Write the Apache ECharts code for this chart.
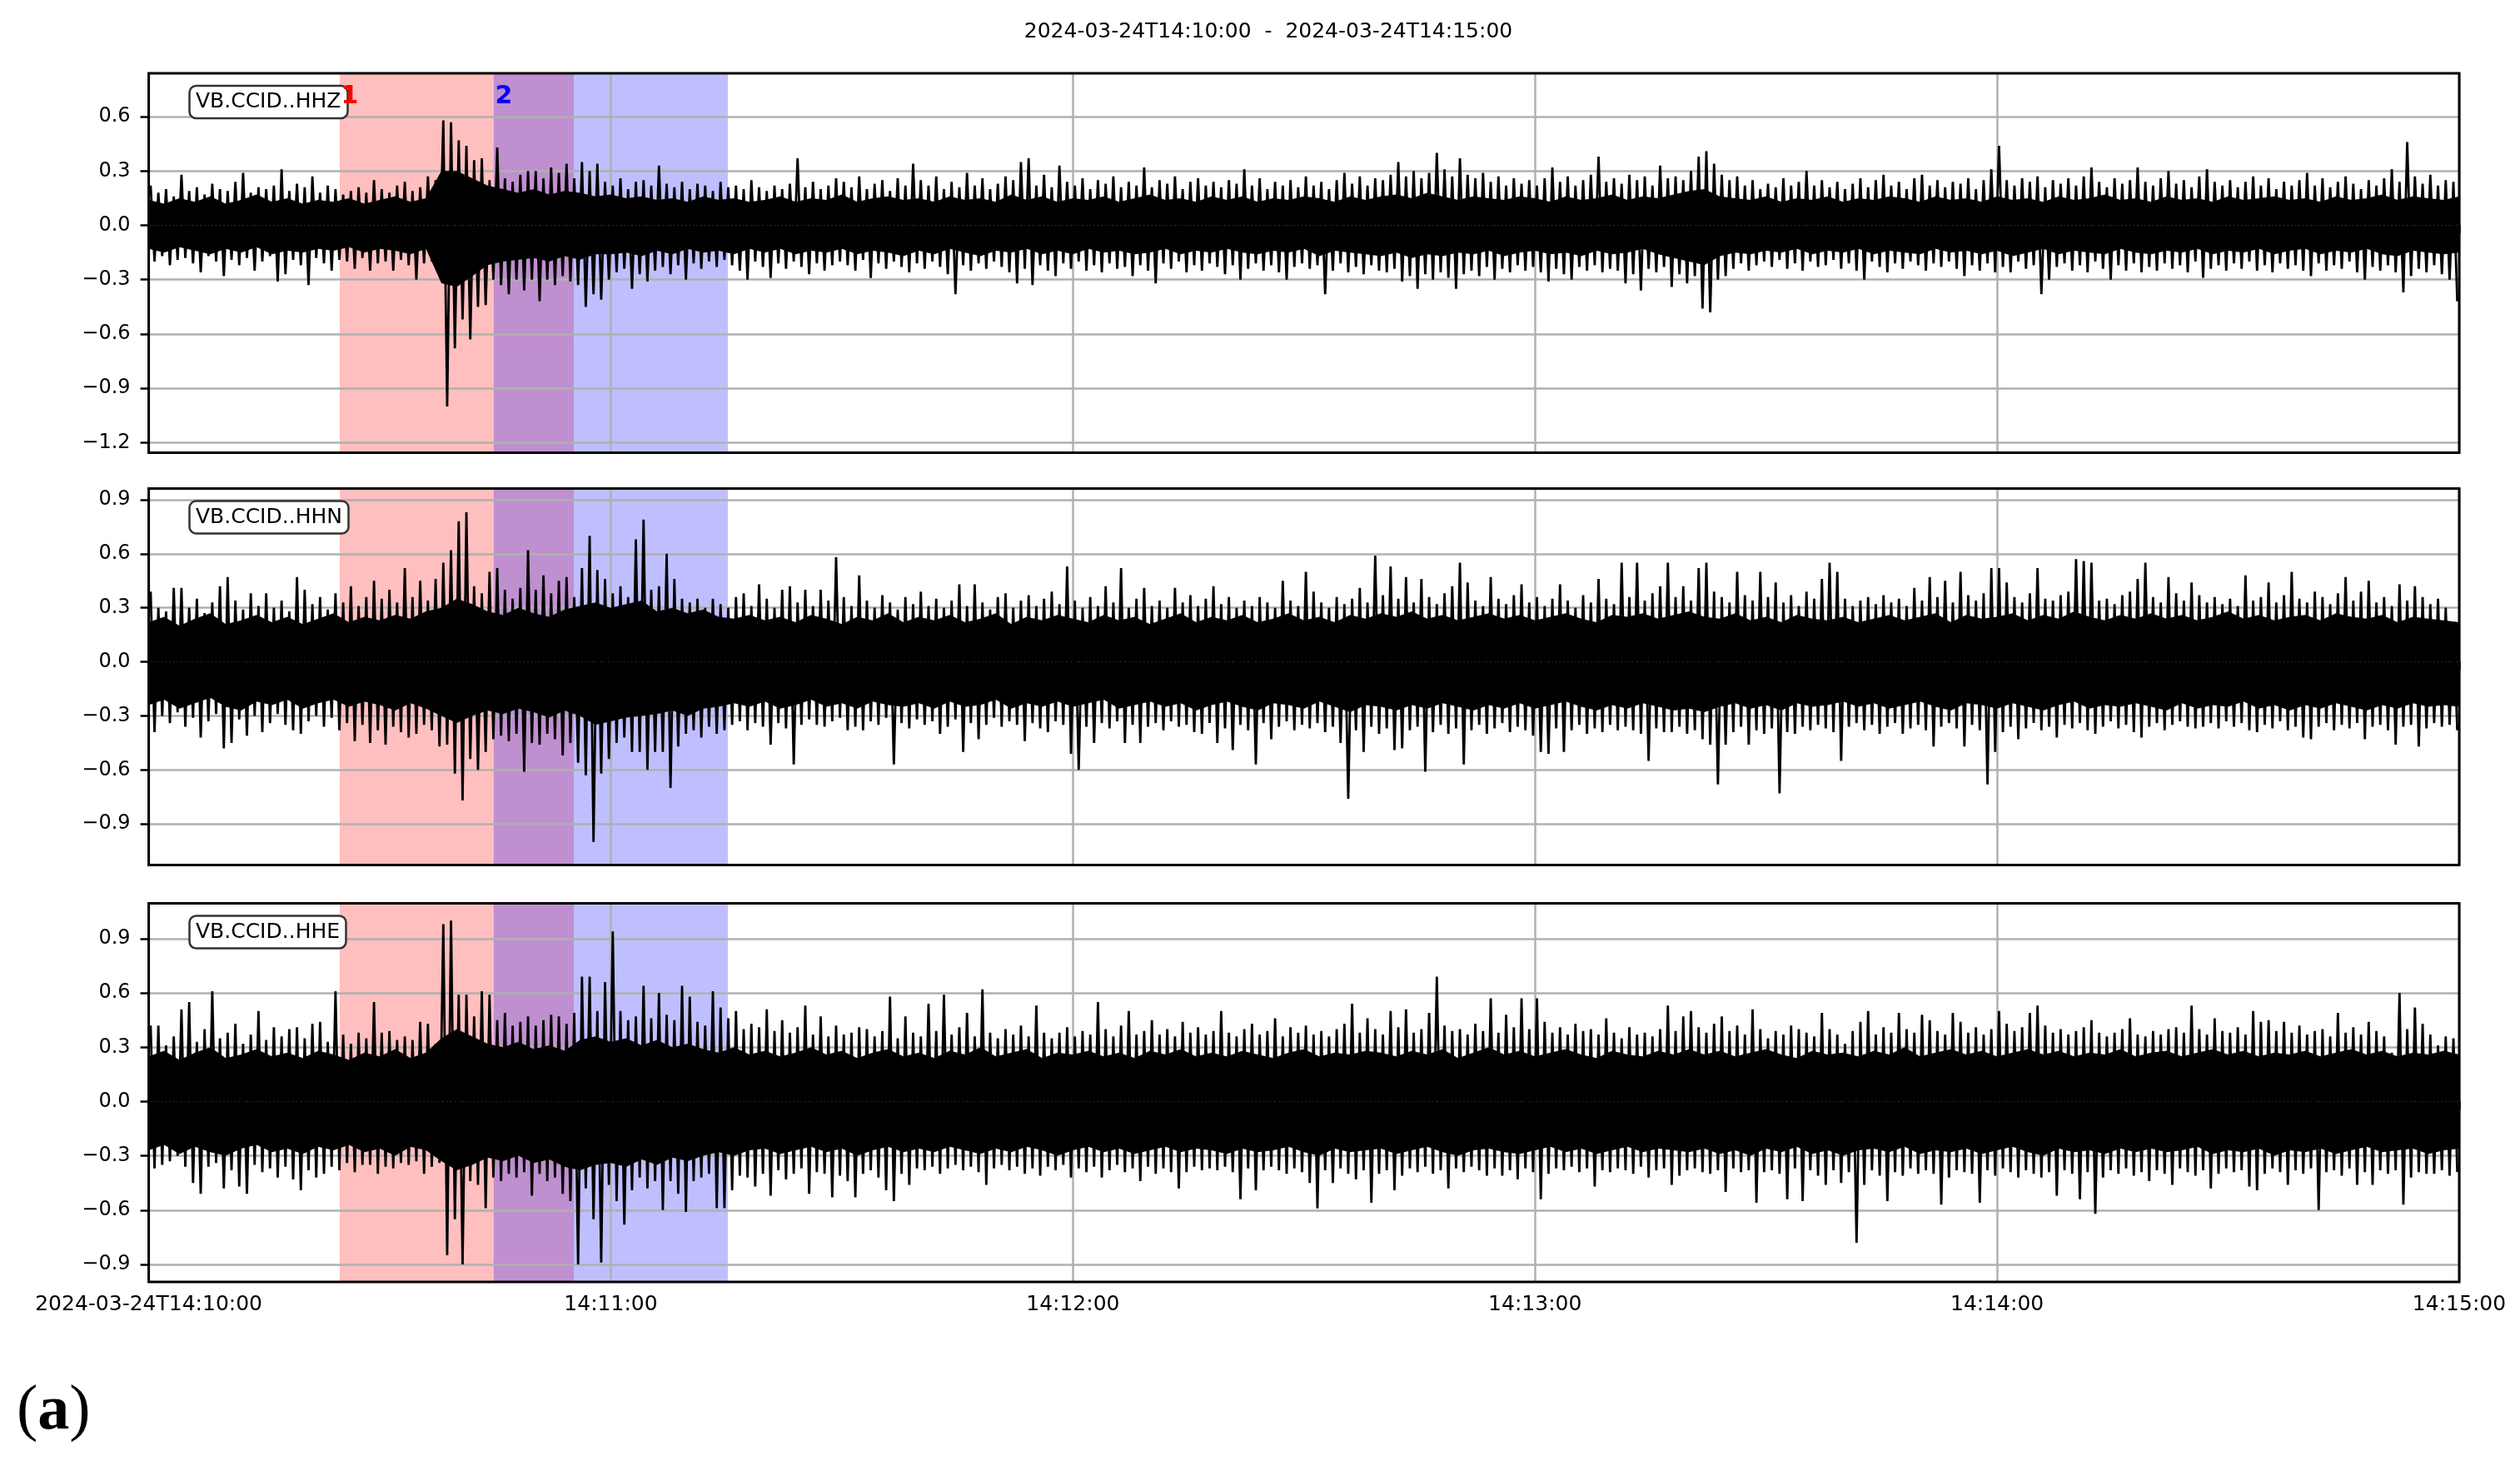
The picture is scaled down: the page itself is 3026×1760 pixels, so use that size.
<!DOCTYPE html>
<html><head><meta charset="utf-8">
<script src="https://cdn.jsdelivr.net/npm/echarts@6/dist/echarts.min.js"></script>
<style>html,body{margin:0;padding:0;background:#fff}#chart{width:3026px;height:1760px}</style>
</head><body><div id="chart"></div>
<script>
const mainTitle = '2024-03-24T14:10:00  -  2024-03-24T14:15:00';
const channels = ['VB.CCID..HHZ', 'VB.CCID..HHN', 'VB.CCID..HHE'];
const xTicks = [0, 60, 120, 180, 240, 300];
const xTickLabels = ['2024-03-24T14:10:00', '14:11:00', '14:12:00', '14:13:00', '14:14:00', '14:15:00'];
const yTicksZ = [-1.2, -0.9, -0.6, -0.3, 0, 0.3, 0.6];
const yTicksN = [-0.9, -0.6, -0.3, 0, 0.3, 0.6, 0.9];
const yTicksE = [-0.9, -0.6, -0.3, 0, 0.3, 0.6, 0.9];
const yLimZ = [-1.256, 0.84];
const yLimN = [-1.128, 0.962];
const yLimE = [-0.997, 1.095];
const pick1 = [24.8, 55.2];
const pick2 = [44.8, 75.2];
const pickLabels = ['1', '2'];

// per-second peak envelope (max / min in each 1 s bin), seconds after 14:10:00
const zHi = [
0.22,0.18,0.2,0.16,0.28,0.19,0.21,0.17,0.23,0.2,
0.19,0.24,0.29,0.18,0.21,0.2,0.22,0.31,0.19,0.23,
0.21,0.27,0.18,0.22,0.2,0.17,0.19,0.21,0.18,0.25,
0.2,0.18,0.22,0.24,0.19,0.21,0.27,0.25,0.58,0.57,
0.47,0.44,0.36,0.37,0.25,0.43,0.26,0.24,0.28,0.3,
0.3,0.26,0.32,0.29,0.34,0.26,0.35,0.3,0.34,0.24,
0.22,0.26,0.2,0.24,0.25,0.22,0.33,0.23,0.21,0.24,
0.2,0.23,0.22,0.19,0.24,0.21,0.22,0.2,0.25,0.21,
0.19,0.22,0.2,0.23,0.37,0.21,0.24,0.2,0.22,0.26,
0.24,0.21,0.27,0.2,0.23,0.25,0.19,0.26,0.22,0.34,
0.25,0.22,0.27,0.2,0.24,0.21,0.29,0.22,0.26,0.2,
0.23,0.27,0.25,0.35,0.37,0.22,0.28,0.21,0.33,0.24,
0.22,0.26,0.2,0.25,0.23,0.27,0.21,0.24,0.22,0.32,
0.21,0.25,0.23,0.27,0.2,0.24,0.26,0.22,0.24,0.21,
0.25,0.23,0.31,0.22,0.26,0.2,0.24,0.22,0.25,0.21,
0.27,0.22,0.24,0.2,0.25,0.29,0.23,0.27,0.22,0.26,
0.25,0.28,0.35,0.27,0.3,0.26,0.29,0.4,0.31,0.27,
0.37,0.28,0.26,0.29,0.24,0.27,0.22,0.26,0.23,0.25,
0.22,0.26,0.32,0.24,0.27,0.22,0.25,0.28,0.38,0.24,
0.26,0.23,0.28,0.25,0.27,0.22,0.33,0.26,0.27,0.25,
0.3,0.38,0.41,0.34,0.28,0.25,0.27,0.22,0.25,0.2,
0.23,0.21,0.26,0.22,0.24,0.3,0.22,0.25,0.21,0.24,
0.2,0.23,0.26,0.21,0.25,0.28,0.22,0.24,0.2,0.26,
0.28,0.22,0.25,0.21,0.24,0.23,0.26,0.2,0.25,0.31,
0.44,0.25,0.22,0.26,0.24,0.27,0.21,0.25,0.23,0.26,
0.22,0.27,0.32,0.24,0.21,0.26,0.23,0.25,0.32,0.24,
0.22,0.26,0.3,0.23,0.25,0.21,0.27,0.31,0.24,0.22,
0.25,0.21,0.24,0.27,0.22,0.26,0.2,0.24,0.22,0.25,
0.29,0.22,0.26,0.21,0.24,0.27,0.23,0.2,0.25,0.22,
0.26,0.31,0.24,0.46,0.27,0.23,0.28,0.22,0.25,0.24];
const zLo = [
-0.2,-0.17,-0.22,-0.19,-0.18,-0.21,-0.26,-0.17,-0.2,-0.28,
-0.19,-0.22,-0.18,-0.25,-0.2,-0.17,-0.31,-0.27,-0.19,-0.22,
-0.33,-0.18,-0.21,-0.25,-0.19,-0.2,-0.24,-0.18,-0.25,-0.21,
-0.2,-0.25,-0.19,-0.22,-0.3,-0.21,-0.2,-0.28,-1.0,-0.68,
-0.52,-0.63,-0.45,-0.44,-0.3,-0.33,-0.38,-0.3,-0.36,-0.3,
-0.42,-0.3,-0.33,-0.28,-0.31,-0.33,-0.45,-0.38,-0.41,-0.3,
-0.26,-0.24,-0.35,-0.27,-0.31,-0.25,-0.23,-0.27,-0.22,-0.3,
-0.21,-0.24,-0.2,-0.23,-0.19,-0.22,-0.25,-0.3,-0.2,-0.23,
-0.29,-0.21,-0.24,-0.2,-0.23,-0.27,-0.21,-0.25,-0.22,-0.2,
-0.22,-0.25,-0.19,-0.29,-0.21,-0.24,-0.2,-0.23,-0.26,-0.21,
-0.24,-0.2,-0.23,-0.27,-0.38,-0.22,-0.25,-0.21,-0.24,-0.2,
-0.23,-0.26,-0.32,-0.24,-0.33,-0.22,-0.25,-0.28,-0.21,-0.24,
-0.2,-0.25,-0.22,-0.26,-0.21,-0.24,-0.23,-0.28,-0.22,-0.25,
-0.32,-0.21,-0.24,-0.2,-0.26,-0.22,-0.25,-0.21,-0.23,-0.27,
-0.22,-0.3,-0.24,-0.21,-0.25,-0.22,-0.26,-0.3,-0.23,-0.21,
-0.24,-0.22,-0.38,-0.25,-0.21,-0.26,-0.23,-0.27,-0.22,-0.25,
-0.26,-0.24,-0.31,-0.28,-0.35,-0.27,-0.3,-0.26,-0.29,-0.35,
-0.27,-0.25,-0.28,-0.23,-0.3,-0.24,-0.26,-0.22,-0.25,-0.23,
-0.26,-0.31,-0.24,-0.27,-0.3,-0.23,-0.25,-0.22,-0.26,-0.24,
-0.25,-0.32,-0.27,-0.36,-0.24,-0.26,-0.23,-0.34,-0.27,-0.32,
-0.28,-0.46,-0.48,-0.3,-0.28,-0.24,-0.21,-0.25,-0.22,-0.2,
-0.23,-0.19,-0.24,-0.21,-0.25,-0.2,-0.23,-0.22,-0.19,-0.24,
-0.21,-0.25,-0.3,-0.2,-0.23,-0.26,-0.21,-0.24,-0.2,-0.22,
-0.25,-0.21,-0.23,-0.2,-0.24,-0.28,-0.22,-0.25,-0.21,-0.26,
-0.23,-0.26,-0.2,-0.24,-0.22,-0.38,-0.3,-0.23,-0.21,-0.25,
-0.22,-0.26,-0.2,-0.24,-0.3,-0.22,-0.25,-0.21,-0.26,-0.23,
-0.25,-0.21,-0.24,-0.22,-0.26,-0.2,-0.29,-0.24,-0.22,-0.25,
-0.21,-0.24,-0.2,-0.25,-0.22,-0.26,-0.21,-0.24,-0.22,-0.25,
-0.28,-0.21,-0.25,-0.22,-0.24,-0.2,-0.26,-0.3,-0.23,-0.25,
-0.22,-0.26,-0.37,-0.28,-0.24,-0.26,-0.22,-0.27,-0.3,-0.42];
const nHi = [
0.39,0.3,0.28,0.41,0.41,0.3,0.35,0.27,0.33,0.42,
0.47,0.34,0.29,0.38,0.31,0.38,0.3,0.34,0.28,0.47,
0.4,0.32,0.36,0.29,0.38,0.33,0.42,0.31,0.36,0.45,
0.35,0.4,0.33,0.52,0.36,0.45,0.34,0.46,0.55,0.62,
0.78,0.83,0.42,0.38,0.5,0.52,0.4,0.35,0.41,0.62,
0.4,0.48,0.38,0.45,0.47,0.36,0.52,0.7,0.51,0.46,
0.38,0.42,0.36,0.68,0.79,0.4,0.42,0.6,0.46,0.35,
0.33,0.35,0.3,0.35,0.32,0.3,0.36,0.38,0.31,0.43,
0.35,0.3,0.4,0.42,0.33,0.4,0.31,0.4,0.34,0.58,
0.36,0.31,0.48,0.34,0.3,0.37,0.33,0.29,0.36,0.32,
0.39,0.31,0.35,0.3,0.34,0.43,0.31,0.43,0.33,0.29,
0.36,0.38,0.3,0.34,0.37,0.31,0.35,0.39,0.32,0.53,
0.34,0.3,0.36,0.31,0.42,0.33,0.52,0.3,0.35,0.41,
0.31,0.34,0.3,0.41,0.33,0.37,0.31,0.35,0.42,0.32,
0.36,0.3,0.34,0.31,0.36,0.33,0.3,0.45,0.34,0.31,
0.5,0.39,0.33,0.3,0.36,0.32,0.35,0.41,0.33,0.59,
0.37,0.53,0.35,0.47,0.33,0.46,0.36,0.32,0.38,0.42,
0.55,0.44,0.34,0.31,0.47,0.35,0.32,0.37,0.43,0.33,
0.36,0.31,0.35,0.43,0.34,0.3,0.37,0.33,0.46,0.35,
0.32,0.55,0.36,0.55,0.34,0.38,0.42,0.55,0.36,0.42,
0.34,0.52,0.55,0.39,0.36,0.33,0.5,0.37,0.34,0.5,
0.36,0.44,0.33,0.37,0.31,0.39,0.35,0.46,0.55,0.5,
0.35,0.31,0.34,0.36,0.32,0.37,0.33,0.35,0.31,0.41,
0.34,0.47,0.36,0.45,0.33,0.5,0.37,0.34,0.38,0.52,
0.52,0.44,0.36,0.33,0.38,0.52,0.35,0.34,0.37,0.39,
0.57,0.56,0.55,0.34,0.35,0.32,0.37,0.39,0.46,0.55,
0.36,0.33,0.47,0.38,0.34,0.44,0.37,0.33,0.36,0.32,
0.35,0.31,0.48,0.34,0.36,0.44,0.33,0.37,0.5,0.35,
0.33,0.39,0.36,0.32,0.38,0.47,0.34,0.39,0.45,0.33,
0.36,0.31,0.43,0.34,0.42,0.36,0.32,0.35,0.3,0.21];
const nLo = [
-0.39,-0.3,-0.34,-0.28,-0.36,-0.31,-0.42,-0.33,-0.29,-0.48,
-0.45,-0.32,-0.41,-0.3,-0.39,-0.34,-0.29,-0.35,-0.38,-0.4,
-0.33,-0.3,-0.36,-0.31,-0.38,-0.34,-0.44,-0.35,-0.45,-0.38,
-0.46,-0.36,-0.39,-0.42,-0.4,-0.35,-0.38,-0.47,-0.46,-0.62,
-0.77,-0.54,-0.6,-0.5,-0.43,-0.41,-0.44,-0.4,-0.61,-0.45,
-0.46,-0.4,-0.43,-0.52,-0.45,-0.56,-0.63,-1.0,-0.62,-0.54,
-0.45,-0.42,-0.5,-0.5,-0.6,-0.5,-0.5,-0.7,-0.47,-0.4,
-0.38,-0.42,-0.36,-0.4,-0.38,-0.35,-0.33,-0.38,-0.34,-0.36,
-0.46,-0.34,-0.37,-0.57,-0.35,-0.32,-0.35,-0.36,-0.33,-0.31,
-0.38,-0.36,-0.38,-0.33,-0.35,-0.31,-0.57,-0.34,-0.37,-0.32,
-0.35,-0.33,-0.4,-0.36,-0.32,-0.5,-0.34,-0.43,-0.35,-0.31,
-0.36,-0.33,-0.35,-0.44,-0.34,-0.37,-0.39,-0.33,-0.35,-0.51,
-0.6,-0.36,-0.45,-0.34,-0.37,-0.33,-0.45,-0.35,-0.45,-0.36,
-0.34,-0.38,-0.33,-0.36,-0.35,-0.39,-0.4,-0.34,-0.45,-0.37,
-0.49,-0.35,-0.38,-0.57,-0.34,-0.43,-0.36,-0.33,-0.38,-0.35,
-0.37,-0.34,-0.39,-0.36,-0.45,-0.76,-0.38,-0.5,-0.36,-0.4,
-0.37,-0.49,-0.48,-0.38,-0.36,-0.61,-0.39,-0.35,-0.4,-0.37,
-0.57,-0.38,-0.35,-0.4,-0.37,-0.34,-0.39,-0.36,-0.38,-0.41,
-0.5,-0.51,-0.37,-0.5,-0.38,-0.35,-0.4,-0.37,-0.39,-0.35,
-0.38,-0.36,-0.38,-0.4,-0.55,-0.37,-0.39,-0.39,-0.36,-0.4,
-0.38,-0.43,-0.46,-0.68,-0.46,-0.39,-0.36,-0.46,-0.38,-0.4,
-0.37,-0.73,-0.39,-0.4,-0.36,-0.38,-0.35,-0.37,-0.39,-0.55,
-0.36,-0.34,-0.38,-0.35,-0.4,-0.36,-0.34,-0.4,-0.37,-0.35,
-0.38,-0.47,-0.36,-0.34,-0.37,-0.47,-0.35,-0.38,-0.68,-0.5,
-0.39,-0.36,-0.43,-0.37,-0.34,-0.38,-0.36,-0.42,-0.35,-0.37,
-0.34,-0.38,-0.4,-0.36,-0.33,-0.37,-0.35,-0.39,-0.42,-0.36,
-0.34,-0.38,-0.35,-0.33,-0.36,-0.37,-0.36,-0.34,-0.37,-0.33,
-0.36,-0.34,-0.38,-0.39,-0.35,-0.37,-0.33,-0.38,-0.36,-0.42,
-0.43,-0.36,-0.34,-0.38,-0.35,-0.37,-0.34,-0.43,-0.36,-0.35,
-0.38,-0.46,-0.36,-0.35,-0.47,-0.37,-0.34,-0.36,-0.35,-0.38];
const eHi = [
0.42,0.42,0.31,0.36,0.51,0.55,0.33,0.4,0.61,0.35,
0.38,0.43,0.32,0.37,0.5,0.34,0.41,0.36,0.4,0.41,
0.35,0.43,0.44,0.33,0.61,0.37,0.32,0.38,0.35,0.55,
0.38,0.39,0.34,0.36,0.34,0.44,0.43,0.32,0.98,1.0,
0.59,0.59,0.47,0.61,0.59,0.45,0.49,0.42,0.44,0.47,
0.42,0.45,0.48,0.47,0.43,0.49,0.69,0.69,0.5,0.66,
0.94,0.5,0.45,0.47,0.64,0.46,0.6,0.48,0.45,0.64,
0.58,0.44,0.42,0.61,0.52,0.46,0.5,0.4,0.43,0.41,
0.51,0.39,0.45,0.38,0.41,0.53,0.37,0.47,0.36,0.42,
0.37,0.38,0.41,0.4,0.36,0.39,0.58,0.35,0.47,0.38,
0.36,0.54,0.39,0.59,0.37,0.41,0.49,0.36,0.62,0.38,
0.35,0.4,0.37,0.42,0.36,0.53,0.38,0.35,0.38,0.41,
0.36,0.39,0.37,0.55,0.4,0.36,0.42,0.5,0.37,0.39,
0.45,0.37,0.4,0.36,0.44,0.38,0.41,0.37,0.39,0.5,
0.38,0.36,0.4,0.43,0.37,0.39,0.46,0.36,0.41,0.38,
0.42,0.37,0.39,0.36,0.4,0.43,0.54,0.38,0.46,0.4,
0.37,0.5,0.41,0.51,0.38,0.4,0.49,0.69,0.42,0.39,
0.4,0.37,0.43,0.39,0.57,0.38,0.48,0.41,0.57,0.4,
0.57,0.44,0.38,0.41,0.37,0.43,0.39,0.4,0.37,0.46,
0.38,0.35,0.41,0.37,0.38,0.36,0.4,0.53,0.39,0.47,
0.5,0.41,0.38,0.43,0.47,0.39,0.42,0.37,0.51,0.4,
0.35,0.39,0.37,0.42,0.4,0.38,0.36,0.49,0.4,0.37,
0.32,0.39,0.44,0.5,0.37,0.41,0.38,0.49,0.4,0.38,
0.48,0.45,0.39,0.37,0.49,0.44,0.38,0.41,0.37,0.4,
0.5,0.43,0.39,0.41,0.49,0.53,0.42,0.38,0.4,0.37,
0.39,0.41,0.45,0.38,0.36,0.38,0.4,0.46,0.37,0.36,
0.39,0.37,0.4,0.41,0.38,0.53,0.4,0.37,0.46,0.39,
0.38,0.41,0.37,0.5,0.44,0.45,0.39,0.44,0.38,0.42,
0.37,0.39,0.4,0.36,0.49,0.38,0.41,0.37,0.44,0.39,
0.36,0.27,0.6,0.4,0.52,0.43,0.37,0.31,0.36,0.35];
const eLo = [
-0.37,-0.35,-0.33,-0.3,-0.36,-0.45,-0.51,-0.36,-0.34,-0.48,
-0.38,-0.47,-0.51,-0.35,-0.39,-0.37,-0.42,-0.36,-0.43,-0.49,
-0.38,-0.42,-0.4,-0.36,-0.38,-0.34,-0.39,-0.35,-0.35,-0.4,
-0.36,-0.37,-0.34,-0.35,-0.33,-0.4,-0.36,-0.34,-0.85,-0.65,
-0.9,-0.44,-0.46,-0.59,-0.42,-0.44,-0.4,-0.42,-0.39,-0.52,
-0.4,-0.44,-0.42,-0.51,-0.55,-0.9,-0.48,-0.65,-0.89,-0.46,
-0.55,-0.68,-0.49,-0.42,-0.48,-0.44,-0.6,-0.44,-0.51,-0.61,
-0.44,-0.42,-0.4,-0.59,-0.59,-0.49,-0.41,-0.42,-0.47,-0.4,
-0.52,-0.38,-0.43,-0.4,-0.37,-0.51,-0.39,-0.4,-0.53,-0.41,
-0.44,-0.53,-0.4,-0.38,-0.42,-0.49,-0.55,-0.4,-0.46,-0.37,
-0.38,-0.36,-0.4,-0.37,-0.35,-0.38,-0.36,-0.39,-0.46,-0.37,
-0.35,-0.38,-0.36,-0.4,-0.37,-0.41,-0.36,-0.38,-0.35,-0.42,
-0.37,-0.39,-0.36,-0.42,-0.38,-0.35,-0.39,-0.37,-0.44,-0.36,
-0.4,-0.37,-0.39,-0.48,-0.39,-0.36,-0.38,-0.37,-0.38,-0.36,
-0.39,-0.54,-0.37,-0.49,-0.38,-0.36,-0.38,-0.4,-0.37,-0.39,
-0.45,-0.59,-0.38,-0.45,-0.37,-0.4,-0.43,-0.38,-0.56,-0.4,
-0.38,-0.49,-0.41,-0.37,-0.39,-0.36,-0.4,-0.38,-0.48,-0.37,
-0.39,-0.36,-0.38,-0.41,-0.37,-0.41,-0.38,-0.43,-0.37,-0.39,
-0.54,-0.4,-0.37,-0.38,-0.36,-0.39,-0.37,-0.47,-0.38,-0.39,
-0.37,-0.38,-0.4,-0.36,-0.42,-0.38,-0.37,-0.46,-0.41,-0.38,
-0.37,-0.39,-0.4,-0.38,-0.5,-0.37,-0.39,-0.38,-0.56,-0.39,
-0.38,-0.4,-0.54,-0.37,-0.55,-0.38,-0.41,-0.46,-0.38,-0.45,
-0.39,-0.78,-0.46,-0.38,-0.41,-0.55,-0.39,-0.41,-0.37,-0.4,
-0.38,-0.4,-0.57,-0.42,-0.38,-0.39,-0.4,-0.56,-0.38,-0.41,
-0.37,-0.39,-0.42,-0.38,-0.4,-0.42,-0.39,-0.52,-0.38,-0.4,
-0.54,-0.39,-0.62,-0.42,-0.38,-0.4,-0.37,-0.41,-0.39,-0.44,
-0.38,-0.4,-0.46,-0.37,-0.39,-0.41,-0.38,-0.48,-0.4,-0.37,
-0.39,-0.38,-0.47,-0.49,-0.4,-0.37,-0.39,-0.46,-0.38,-0.4,
-0.37,-0.6,-0.39,-0.38,-0.41,-0.37,-0.46,-0.39,-0.46,-0.38,
-0.4,-0.38,-0.57,-0.42,-0.39,-0.4,-0.4,-0.38,-0.41,-0.39];

// dense noise band (upper / lower edge), every 2 s from 0 to 300 s
const zCoreHi = [
0.14,0.12,0.15,0.13,0.16,0.12,0.14,0.17,0.13,0.15,
0.12,0.14,0.13,0.15,0.12,0.14,0.16,0.13,0.15,0.3,
0.3,0.26,0.22,0.2,0.18,0.2,0.17,0.19,0.18,0.16,
0.17,0.15,0.16,0.14,0.15,0.13,0.16,0.14,0.15,0.13,
0.14,0.16,0.13,0.15,0.14,0.17,0.13,0.15,0.16,0.14,
0.15,0.13,0.16,0.14,0.15,0.13,0.17,0.14,0.16,0.13,
0.15,0.14,0.16,0.13,0.15,0.17,0.14,0.15,0.13,0.16,
0.14,0.16,0.13,0.15,0.14,0.16,0.15,0.13,0.16,0.14,
0.16,0.17,0.15,0.18,0.16,0.14,0.16,0.15,0.14,0.16,
0.15,0.13,0.16,0.14,0.15,0.17,0.14,0.16,0.15,0.17,
0.19,0.2,0.16,0.15,0.14,0.16,0.13,0.15,0.14,0.16,
0.13,0.15,0.14,0.16,0.15,0.13,0.16,0.14,0.15,0.13,
0.16,0.14,0.15,0.13,0.16,0.14,0.15,0.17,0.14,0.15,
0.13,0.16,0.14,0.15,0.13,0.16,0.14,0.15,0.16,0.14,
0.15,0.13,0.16,0.14,0.15,0.17,0.14,0.16,0.15,0.14,
0.16];
const zCoreLo = [
-0.13,-0.15,-0.12,-0.14,-0.16,-0.13,-0.15,-0.12,-0.16,-0.14,
-0.15,-0.13,-0.14,-0.12,-0.15,-0.13,-0.14,-0.16,-0.13,-0.32,
-0.34,-0.28,-0.22,-0.2,-0.19,-0.18,-0.2,-0.17,-0.19,-0.16,
-0.16,-0.15,-0.17,-0.14,-0.16,-0.13,-0.15,-0.14,-0.16,-0.13,
-0.15,-0.13,-0.16,-0.14,-0.15,-0.13,-0.16,-0.14,-0.15,-0.17,
-0.14,-0.16,-0.13,-0.15,-0.17,-0.14,-0.15,-0.13,-0.16,-0.14,
-0.16,-0.13,-0.15,-0.14,-0.16,-0.15,-0.13,-0.16,-0.14,-0.15,
-0.13,-0.15,-0.16,-0.14,-0.15,-0.13,-0.17,-0.14,-0.15,-0.16,
-0.17,-0.15,-0.18,-0.16,-0.17,-0.15,-0.16,-0.14,-0.17,-0.15,
-0.14,-0.16,-0.15,-0.17,-0.14,-0.16,-0.15,-0.13,-0.16,-0.18,
-0.2,-0.22,-0.17,-0.15,-0.16,-0.14,-0.15,-0.13,-0.16,-0.14,
-0.15,-0.13,-0.16,-0.14,-0.15,-0.16,-0.13,-0.15,-0.14,-0.16,
-0.14,-0.17,-0.15,-0.13,-0.16,-0.14,-0.15,-0.16,-0.13,-0.15,
-0.16,-0.14,-0.15,-0.13,-0.16,-0.14,-0.15,-0.13,-0.16,-0.14,
-0.13,-0.16,-0.14,-0.15,-0.13,-0.16,-0.17,-0.14,-0.15,-0.16,
-0.15];
const nCoreHi = [
0.22,0.25,0.2,0.24,0.27,0.21,0.23,0.26,0.22,0.25,
0.21,0.24,0.27,0.22,0.25,0.23,0.26,0.24,0.28,0.3,
0.35,0.32,0.28,0.26,0.3,0.27,0.25,0.29,0.31,0.33,
0.3,0.32,0.34,0.28,0.3,0.27,0.29,0.25,0.24,0.26,
0.23,0.25,0.22,0.26,0.24,0.21,0.25,0.23,0.27,0.22,
0.25,0.23,0.26,0.22,0.24,0.27,0.21,0.25,0.23,0.26,
0.24,0.22,0.26,0.23,0.25,0.21,0.24,0.27,0.22,0.25,
0.23,0.26,0.22,0.24,0.27,0.23,0.25,0.22,0.26,0.24,
0.27,0.25,0.28,0.24,0.26,0.23,0.25,0.27,0.24,0.26,
0.23,0.25,0.27,0.24,0.22,0.26,0.25,0.27,0.24,0.26,
0.28,0.25,0.24,0.27,0.23,0.25,0.22,0.26,0.24,0.23,
0.25,0.22,0.24,0.26,0.23,0.25,0.27,0.22,0.26,0.24,
0.25,0.27,0.23,0.26,0.24,0.28,0.25,0.23,0.26,0.24,
0.27,0.24,0.26,0.23,0.25,0.28,0.24,0.26,0.23,0.25,
0.26,0.23,0.27,0.25,0.24,0.26,0.22,0.25,0.24,0.23,
0.22];
const nCoreLo = [
-0.24,-0.21,-0.26,-0.23,-0.2,-0.25,-0.27,-0.22,-0.24,-0.21,
-0.26,-0.23,-0.21,-0.25,-0.22,-0.24,-0.27,-0.23,-0.26,-0.3,
-0.34,-0.3,-0.27,-0.29,-0.26,-0.28,-0.31,-0.27,-0.3,-0.35,
-0.33,-0.31,-0.3,-0.29,-0.27,-0.3,-0.26,-0.25,-0.23,-0.25,
-0.22,-0.26,-0.24,-0.21,-0.25,-0.23,-0.26,-0.22,-0.24,-0.25,
-0.23,-0.26,-0.22,-0.25,-0.24,-0.21,-0.26,-0.23,-0.25,-0.22,
-0.25,-0.23,-0.21,-0.26,-0.24,-0.22,-0.25,-0.23,-0.27,-0.24,
-0.22,-0.25,-0.27,-0.23,-0.24,-0.26,-0.22,-0.25,-0.28,-0.24,
-0.25,-0.27,-0.24,-0.26,-0.23,-0.25,-0.27,-0.24,-0.26,-0.23,
-0.26,-0.24,-0.22,-0.25,-0.27,-0.24,-0.26,-0.23,-0.25,-0.27,
-0.26,-0.28,-0.25,-0.23,-0.26,-0.24,-0.27,-0.23,-0.25,-0.24,
-0.22,-0.25,-0.23,-0.26,-0.24,-0.22,-0.25,-0.27,-0.23,-0.24,
-0.26,-0.23,-0.25,-0.27,-0.24,-0.22,-0.26,-0.24,-0.25,-0.23,
-0.25,-0.27,-0.23,-0.26,-0.24,-0.25,-0.22,-0.26,-0.24,-0.27,
-0.24,-0.26,-0.23,-0.25,-0.27,-0.24,-0.26,-0.23,-0.25,-0.24,
-0.25];
const eCoreHi = [
0.25,0.28,0.23,0.27,0.3,0.24,0.26,0.29,0.25,0.27,
0.24,0.28,0.26,0.23,0.27,0.25,0.29,0.24,0.27,0.35,
0.4,0.36,0.32,0.3,0.33,0.29,0.31,0.28,0.34,0.36,
0.33,0.35,0.31,0.34,0.3,0.32,0.29,0.27,0.3,0.26,
0.28,0.25,0.27,0.3,0.26,0.28,0.24,0.27,0.29,0.25,
0.27,0.24,0.28,0.26,0.3,0.25,0.27,0.29,0.24,0.27,
0.26,0.28,0.25,0.27,0.24,0.28,0.26,0.29,0.25,0.27,
0.25,0.28,0.26,0.24,0.27,0.29,0.25,0.27,0.26,0.28,
0.27,0.25,0.28,0.26,0.29,0.24,0.27,0.3,0.26,0.28,
0.25,0.27,0.29,0.26,0.24,0.28,0.26,0.25,0.28,0.26,
0.29,0.26,0.28,0.25,0.27,0.29,0.26,0.24,0.28,0.26,
0.27,0.25,0.28,0.26,0.3,0.25,0.27,0.29,0.26,0.28,
0.25,0.27,0.29,0.26,0.28,0.25,0.27,0.26,0.29,0.25,
0.27,0.28,0.25,0.27,0.29,0.26,0.28,0.25,0.27,0.26,
0.28,0.25,0.27,0.29,0.26,0.28,0.25,0.27,0.26,0.28,
0.26];
const eCoreLo = [
-0.27,-0.24,-0.29,-0.25,-0.28,-0.3,-0.26,-0.24,-0.28,-0.26,
-0.29,-0.25,-0.27,-0.24,-0.28,-0.26,-0.3,-0.25,-0.27,-0.33,
-0.38,-0.35,-0.31,-0.33,-0.3,-0.34,-0.32,-0.36,-0.38,-0.35,
-0.34,-0.36,-0.32,-0.35,-0.31,-0.33,-0.3,-0.28,-0.3,-0.27,
-0.26,-0.29,-0.27,-0.25,-0.28,-0.26,-0.3,-0.27,-0.25,-0.28,
-0.26,-0.28,-0.25,-0.27,-0.29,-0.26,-0.28,-0.25,-0.27,-0.3,
-0.27,-0.25,-0.28,-0.26,-0.29,-0.27,-0.25,-0.28,-0.26,-0.27,
-0.29,-0.26,-0.28,-0.27,-0.25,-0.28,-0.3,-0.26,-0.28,-0.27,
-0.26,-0.29,-0.27,-0.25,-0.28,-0.3,-0.27,-0.26,-0.28,-0.29,
-0.27,-0.25,-0.28,-0.26,-0.29,-0.27,-0.25,-0.28,-0.26,-0.27,
-0.28,-0.26,-0.29,-0.27,-0.3,-0.26,-0.28,-0.25,-0.29,-0.27,
-0.3,-0.27,-0.26,-0.28,-0.25,-0.29,-0.27,-0.28,-0.26,-0.29,
-0.27,-0.25,-0.28,-0.3,-0.26,-0.28,-0.27,-0.29,-0.26,-0.28,
-0.26,-0.28,-0.27,-0.25,-0.29,-0.27,-0.28,-0.26,-0.3,-0.27,
-0.28,-0.26,-0.29,-0.27,-0.25,-0.28,-0.27,-0.26,-0.29,-0.27,
-0.26];

const FONT = 'DejaVu Sans';
const traces = [
  {hi: zHi, lo: zLo, cHi: zCoreHi, cLo: zCoreLo, ticks: yTicksZ, lim: yLimZ},
  {hi: nHi, lo: nLo, cHi: nCoreHi, cLo: nCoreLo, ticks: yTicksN, lim: yLimN},
  {hi: eHi, lo: eLo, cHi: eCoreHi, cLo: eCoreLo, ticks: yTicksE, lim: yLimE}
];
const gridTops = [88, 586.5, 1084.6];
const gridHeights = [455.5, 452, 454.4];
const GL = 178.6, GR = 73;

const fmtY = v => (v < 0 ? '\u2212' : '') + Math.abs(v).toFixed(1);

const grids = [], xAxes = [], yAxes = [], series = [], titles = [];
traces.forEach((tr, k) => {
  grids.push({left: GL, right: GR, top: gridTops[k], height: gridHeights[k], show: true,
    borderColor: '#000', borderWidth: 3, backgroundColor: 'transparent', z: 6});
  xAxes.push({type: 'value', gridIndex: k, min: 0, max: 300, interval: 60, z: 2,
    axisLine: {show: false},
    axisTick: {show: true, inside: false, length: 10, lineStyle: {color: '#000', width: 2.5}},
    axisLabel: {show: k === 2, margin: 15, fontFamily: FONT, fontSize: 25, color: '#000',
      showMinLabel: true, showMaxLabel: true, hideOverlap: false,
      formatter: v => { const i = xTicks.indexOf(v); return i >= 0 ? xTickLabels[i] : ''; }},
    splitLine: {show: true, lineStyle: {color: '#b0b0b0', width: 2.5}}});
  yAxes.push({type: 'value', gridIndex: k, min: tr.lim[0], max: tr.lim[1], z: 2,
    axisLine: {show: false},
    axisTick: {show: true, inside: false, length: 10, customValues: tr.ticks, lineStyle: {color: '#000', width: 2.5}},
    axisLabel: {show: true, customValues: tr.ticks, margin: 22, fontFamily: FONT, fontSize: 24, color: '#000', formatter: fmtY},
    splitLine: {show: true, lineStyle: {color: '#b0b0b0', width: 2.5}}});
  const coreUp = tr.cHi.map((c, i) => [i * 2, c]);
  const coreDn = tr.cLo.map((c, i) => [i * 2, c]);
  const pickPoint = (t, txt, col) => ({coord: [t, tr.lim[1]], symbol: 'rect', symbolSize: 1,
    itemStyle: {color: 'rgba(0,0,0,0)'},
    label: {show: true, formatter: txt, position: [2, 14], color: col, fontFamily: FONT, fontWeight: 'bold', fontSize: 30}});
  series.push({type: 'line', xAxisIndex: k, yAxisIndex: k, data: coreUp, symbol: 'none', silent: true, z: 3,
    animation: false, lineStyle: {width: 0, opacity: 0}, areaStyle: {color: '#000', opacity: 1},
    markArea: {silent: true, z: 1, data: [
      [{xAxis: pick1[0], itemStyle: {color: 'rgba(255,0,0,0.25)'}}, {xAxis: pick1[1]}],
      [{xAxis: pick2[0], itemStyle: {color: 'rgba(0,0,255,0.25)'}}, {xAxis: pick2[1]}]
    ]},
    markPoint: k === 0 ? {silent: true, z: 8, animation: false, data: [
      pickPoint(pick1[0], pickLabels[0], '#ff0000'), pickPoint(pick2[0], pickLabels[1], '#0000ff')]} : undefined});
  series.push({type: 'line', xAxisIndex: k, yAxisIndex: k, data: coreDn, symbol: 'none', silent: true, z: 3,
    animation: false, lineStyle: {width: 0, opacity: 0}, areaStyle: {color: '#000', opacity: 1}});
  const wave = [];
  tr.hi.forEach((h, i) => { wave.push([i + 0.25, h]); wave.push([i + 0.75, tr.lo[i]]); });
  series.push({type: 'line', xAxisIndex: k, yAxisIndex: k, data: wave, symbol: 'none', silent: true, z: 4,
    animation: false, lineStyle: {color: '#000', width: 2.8}});
  titles.push({text: channels[k], left: 227, top: gridTops[k] + 14.5, padding: [6, 8],
    borderColor: '#333', borderWidth: 2.5, borderRadius: 8, backgroundColor: '#fff',
    textStyle: {fontFamily: FONT, fontSize: 25, fontWeight: 'normal', color: '#000', lineHeight: 28}});
});

const chart = echarts.init(document.getElementById('chart'));
chart.setOption({
  animation: false,
  backgroundColor: '#fff',
  title: titles,
  grid: grids, xAxis: xAxes, yAxis: yAxes, series: series,
  graphic: [
    {type: 'text', x: 1523, y: 38, style: {text: mainTitle, fontFamily: FONT, fontSize: 25, fill: '#000',
      textAlign: 'center', textVerticalAlign: 'middle'}},
    {type: 'text', x: 20, y: 1695, style: {text: '{p|(}{b|a}{p|)}', textAlign: 'left', textVerticalAlign: 'middle',
      fontFamily: 'Liberation Serif', fontSize: 76, fontWeight: 'normal', fill: '#000',
      rich: {
        p: {fontFamily: 'Liberation Serif', fontSize: 76, fontWeight: 'normal', fill: '#000'},
        b: {fontFamily: 'Liberation Serif', fontSize: 76, fontWeight: 'bold', fill: '#000'}
      }}}
  ]
});
</script></body></html>
